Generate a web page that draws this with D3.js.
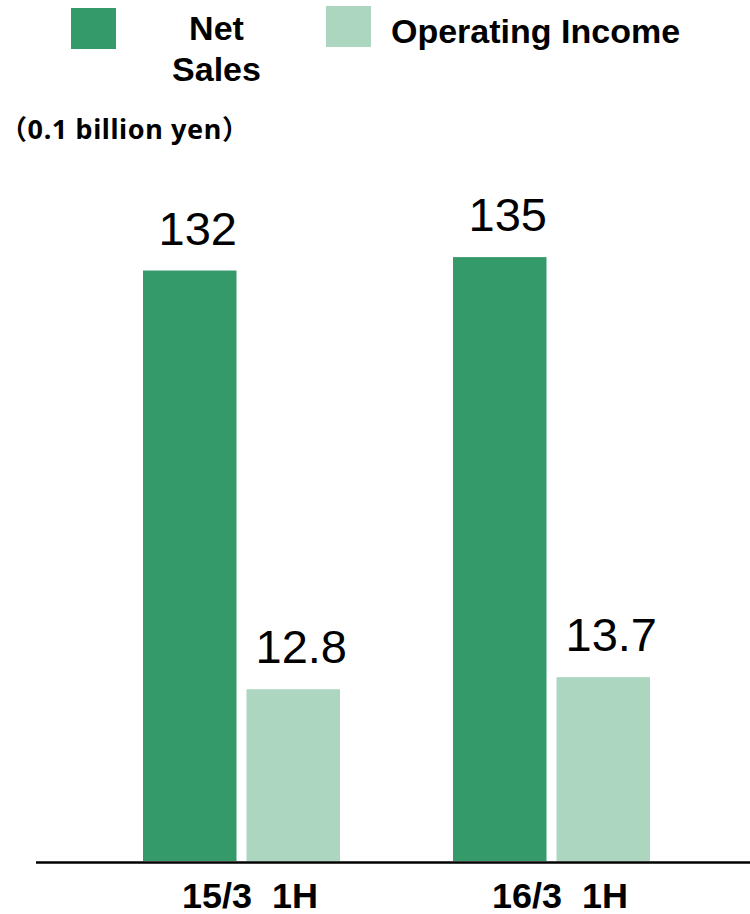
<!DOCTYPE html>
<html>
<head>
<meta charset="utf-8">
<script src="https://cdn.jsdelivr.net/npm/d3@7"></script>
<style>
  html, body { margin: 0; padding: 0; background: #ffffff; }
  svg { display: block; }
</style>
</head>
<body>
<svg id="chart" width="750" height="914"></svg>
<script>
// Half-year results, in units of 0.1 billion yen
const categories = ["15/3\u00a0\u00a01H", "16/3\u00a0\u00a01H"];
const seriesNames = ["Net Sales", "Operating Income"];
const netSales = [132, 135];
const operatingIncome = [12.8, 13.7];
const legendLines = [["Net", "Sales"], ["Operating Income"]];
const unitLabel = "\uff080.1 billion yen\uff09";

const colors = { "Net Sales": "#359a6a", "Operating Income": "#add6c1" };

const svg = d3.select("#chart");
const baseY = 861;
const topY = 190;

// Each series has its own value axis sharing the same baseline
const yNet = d3.scaleLinear().domain([0, 150]).range([baseY, topY]);
const yOp = d3.scaleLinear().domain([0, 50]).range([baseY, topY]);
const yFor = { "Net Sales": yNet, "Operating Income": yOp };

const x0 = d3.scaleBand().domain(categories).range([143, 650]).paddingInner(0.3645).paddingOuter(0);
const x1 = d3.scaleBand().domain(seriesNames).range([0, x0.bandwidth()]).paddingInner(0.0966).paddingOuter(0);

const rows = categories.map((c, i) => ({
  cat: c,
  values: [
    { key: "Net Sales", value: netSales[i], label: String(netSales[i]) },
    { key: "Operating Income", value: operatingIncome[i], label: operatingIncome[i].toFixed(1) }
  ]
}));

const groups = svg.append("g").selectAll("g")
  .data(rows).join("g")
  .attr("transform", d => `translate(${x0(d.cat)},0)`);

groups.selectAll("rect")
  .data(d => d.values).join("rect")
  .attr("x", d => x1(d.key))
  .attr("y", d => yFor[d.key](d.value))
  .attr("width", x1.bandwidth())
  .attr("height", d => baseY - yFor[d.key](d.value))
  .attr("fill", d => colors[d.key]);

groups.selectAll("text.val")
  .data(d => d.values).join("text")
  .attr("class", "val")
  .attr("x", d => x1(d.key) + x1.bandwidth() / 2 + 8)
  .attr("y", d => yFor[d.key](d.value) - 26)
  .attr("text-anchor", "middle")
  .attr("font-family", "'Liberation Sans', Arial, sans-serif")
  .attr("font-size", 47)
  .attr("fill", "#000")
  .text(d => d.label);

// Baseline axis
const axis = d3.axisBottom(x0).tickSize(0).tickFormat("");
const axisG = svg.append("g").attr("transform", `translate(0,${baseY + 1.5})`).call(axis);
axisG.select(".domain").remove();
svg.append("line")
  .attr("x1", 36).attr("x2", 750)
  .attr("y1", baseY + 1.5).attr("y2", baseY + 1.5)
  .attr("stroke", "#000").attr("stroke-width", 2.6);

// Category labels
svg.append("g").selectAll("text")
  .data(categories).join("text")
  .attr("x", d => x0(d) + x0.bandwidth() / 2 + 8.5 - 68)
  .attr("y", 908)
  .attr("font-family", "'Liberation Sans Narrow', 'Liberation Sans', Arial, sans-serif")
  .attr("font-weight", "bold")
  .attr("font-size", 35)
  .attr("textLength", 136)
  .attr("lengthAdjust", "spacingAndGlyphs")
  .attr("fill", "#000")
  .text(d => d);

// Legend
const legendPos = [
  { sx: 71, sy: 8, tx: 216.5, anchor: "middle", baselines: [40, 81] },
  { sx: 326, sy: 6, tx: 391, anchor: "start", baselines: [43] }
];
const legend = svg.append("g").selectAll("g")
  .data(seriesNames).join("g");
legend.append("rect")
  .attr("x", (d, i) => legendPos[i].sx)
  .attr("y", (d, i) => legendPos[i].sy)
  .attr("width", 45).attr("height", 41)
  .attr("fill", d => colors[d]);
legend.each(function (d, i) {
  const p = legendPos[i];
  d3.select(this).selectAll("text")
    .data(legendLines[i]).join("text")
    .attr("x", p.tx)
    .attr("y", (t, j) => p.baselines[j])
    .attr("text-anchor", p.anchor)
    .attr("font-family", "'Liberation Sans', Arial, sans-serif")
    .attr("font-weight", "bold")
    .attr("font-size", 34)
    .attr("fill", "#000")
    .text(t => t);
});

// Unit note
svg.append("text")
  .attr("x", 0).attr("y", 139)
  .attr("font-family", "'Noto Sans', 'Noto Sans CJK JP', sans-serif")
  .attr("font-weight", "bold")
  .attr("font-size", 27)
  .attr("letter-spacing", 0.6)
  .attr("fill", "#000")
  .text(unitLabel);
</script>
</body>
</html>
